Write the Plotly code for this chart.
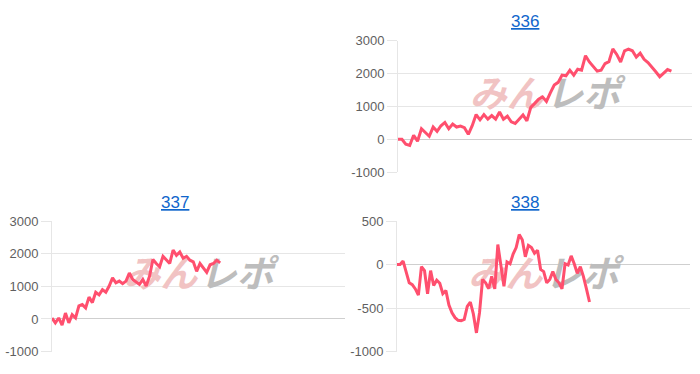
import plotly.graph_objects as go

titles = ["336", "337", "338"]

s336 = [0, 0, -150, -190, 120, -60, 320, 190, 90, 370, 240, 410, 510, 320, 460, 370,
        400, 350, 150, 410, 750, 590, 750, 610, 720, 610, 830, 610, 700, 530, 480, 610,
        740, 560, 970, 1090, 1220, 1290, 1150, 1410, 1650, 1730, 1950, 1930, 2100, 1950,
        2130, 2100, 2540, 2350, 2200, 2070, 2100, 2300, 2360, 2750, 2580, 2350, 2690,
        2740, 2690, 2500, 2620, 2430, 2330, 2200, 2050, 1900, 2000, 2120, 2070]

s337 = [30, -120, 30, -190, 180, -120, 130, 30, 400, 440, 340, 670, 500, 820, 740, 900,
        820, 1010, 1260, 1110, 1160, 1080, 1160, 1410, 1210, 1130, 1060, 1210, 1010, 1310,
        1820, 1700, 1600, 1920, 1800, 1700, 2110, 1950, 2050, 1860, 1920, 1800, 1750, 1460,
        1700, 1560, 1430, 1660, 1700, 1800, 1720]

s338 = [0, 0, 40, -80, -210, -230, -280, -350, -25, -70, -335, -70, -240, -180, -215,
        -335, -300, -465, -555, -610, -640, -645, -630, -480, -430, -570, -785, -555, -170,
        -210, -275, -135, -280, 230, 10, -250, 30, 10, 120, 195, 345, 285, 90, 220, 195,
        130, 165, -55, -80, -210, -170, -80, -170, -210, -280, 10, -5, 100, 10, -100, -25,
        -135, -280, -430]

series = [s336, s337, s338]
# fraction of plot width at which each series ends
end_frac = [0.93, 0.574, 0.657]
y_ranges = [[-1000, 3000], [-1000, 3000], [-1000, 500]]
y_ticks = [[-1000, 0, 1000, 2000, 3000], [-1000, 0, 1000, 2000, 3000], [-1000, -500, 0, 500]]
wm_left, wm_right = "みん", "レポ"

W, H = 700, 374
# plot boxes in pixels: left, right, top, bottom
boxes = [(398, 692, 35, 172), (52, 345, 223, 359), (397, 690, 223, 359)]
cells = [(350, 700, 15), (0, 350, 204), (350, 700, 204)]

LINE = "#ff4f6e"
fig = go.Figure()
annotations = []
layout = {}
for i in range(3):
    n = len(series[i])
    xs = list(range(n))
    ax = "" if i == 0 else str(i + 1)
    l, r, t, b = boxes[i]
    xmax = (n - 1) / end_frac[i]
    y0, y1 = y_ranges[i]
    # watermark (drawn first, so it sits beneath the line)
    cxp = (l + r) / 2
    cyp = (t + b) / 2 - 9
    cx = (cxp - l) / (r - l) * xmax
    cy = y0 + (b - cyp) / (b - t) * (y1 - y0)
    fig.add_trace(go.Scatter(x=[cx - xmax * 0.004, cx + xmax * 0.004], y=[cy, cy], mode="text",
                             text=["<b>" + wm_left + "</b>", "<b>" + wm_right + "</b>"],
                             textposition=["middle left", "middle right"],
                             textfont=dict(family="Noto Sans CJK JP", size=37,
                                           color=["#f1c3c3", "#bdbdbd"], style="italic"),
                             xaxis="x" + ax, yaxis="y" + ax, hoverinfo="skip", showlegend=False))
    fig.add_trace(go.Scatter(x=xs, y=series[i], mode="lines",
                             line=dict(color=LINE, width=3, shape="linear"),
                             xaxis="x" + ax, yaxis="y" + ax, hoverinfo="skip",
                             showlegend=False))
    layout["xaxis" + ax] = dict(domain=[l / W, r / W], range=[0, xmax], showgrid=False,
                                showticklabels=False, zeroline=False, showline=False,
                                anchor="y" + ax, fixedrange=True)
    layout["yaxis" + ax] = dict(domain=[1 - b / H, 1 - t / H], range=y_ranges[i],
                                tickvals=y_ticks[i], ticktext=[str(v) for v in y_ticks[i]],
                                showgrid=True, gridcolor="#e6e6e6", gridwidth=1,
                                zeroline=True, zerolinecolor="#cfcfcf", zerolinewidth=1,
                                showline=True, linecolor="#e6e6e6", linewidth=1,
                                ticks="outside", ticklen=10, tickcolor="#e6e6e6",
                                tickfont=dict(family="Liberation Sans, Arial", size=13, color="#5f5f5f"),
                                anchor="x" + ax, fixedrange=True)
    cl, cr, ty = cells[i]
    annotations.append(dict(text="<u>" + titles[i] + "</u>", x=(cl + cr) / 2 / W, y=1 - ty / H,
                            xref="paper", yref="paper", showarrow=False, xanchor="center",
                            yanchor="middle",
                            font=dict(family="Liberation Sans, Arial", size=17, color="#1066cc")))

fig.update_layout(width=W, height=H, margin=dict(l=0, r=0, t=0, b=0),
                  paper_bgcolor="white", plot_bgcolor="white",
                  annotations=annotations, **layout)
fig.write_html("out.html")
